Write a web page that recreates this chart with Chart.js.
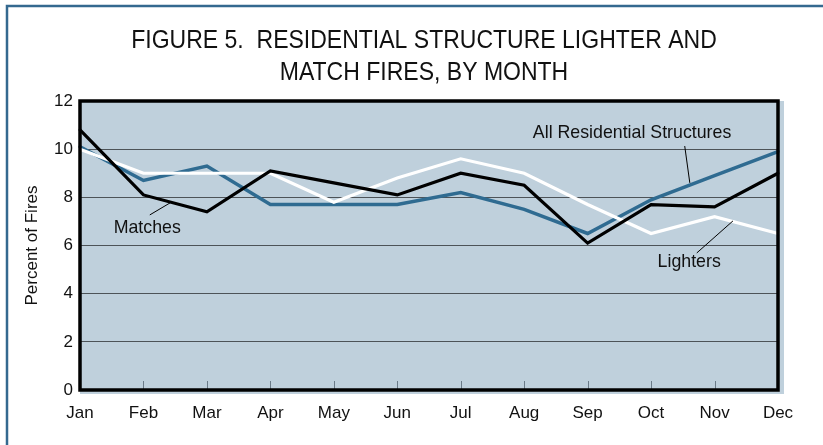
<!DOCTYPE html>
<html>
<head>
<meta charset="utf-8">
<script src="https://cdn.jsdelivr.net/npm/chart.js@4/dist/chart.umd.min.js"></script>
<style>
  html, body { margin: 0; padding: 0; background: #fff; }
  #wrap { position: relative; width: 823px; height: 445px; }
</style>
</head>
<body>
<div id="wrap"><canvas id="chart" width="823" height="445"></canvas></div>
<script>
// monthly share of fires (percent)
const months = ['Jan','Feb','Mar','Apr','May','Jun','Jul','Aug','Sep','Oct','Nov','Dec'];
const matches = [10.8, 8.1, 7.4, 9.1, 8.6, 8.1, 9.0, 8.5, 6.1, 7.7, 7.6, 9.0];
const lighters = [10.0, 9.0, 9.0, 9.0, 7.8, 8.8, 9.6, 9.0, 7.7, 6.5, 7.2, 6.5];
const allResidential = [10.1, 8.7, 9.3, 7.7, 7.7, 7.7, 8.2, 7.5, 6.5, 7.9, 8.9, 9.9];
const yTicks = [0, 2, 4, 6, 8, 10, 12];
const titleLines = ['FIGURE 5.  RESIDENTIAL STRUCTURE LIGHTER AND', 'MATCH FIRES, BY MONTH'];

// text labels inside the plot, in data units (x = month index, y = percent)
const notes = [
  { text: 'Matches', x: 1.06, y: 6.73, from: [1.10, 7.27], to: [1.42, 7.77] },
  { text: 'All Residential Structures', x: 8.70, y: 10.67, from: [9.53, 10.13], to: [9.61, 8.60] },
  { text: 'Lighters', x: 9.60, y: 5.32, from: [9.72, 5.69], to: [10.29, 7.02] }
];

const FONT = "'Liberation Sans', Arial, sans-serif";

const framePlugin = {
  id: 'frame',
  beforeDraw(chart){
    const c = chart.ctx, a = chart.chartArea;
    c.save();
    // outer blue border (left + top)
    c.strokeStyle = '#34698f';
    c.lineWidth = 2.5;
    c.beginPath();
    c.moveTo(7, 445);
    c.lineTo(7, 6);
    c.lineTo(823, 6);
    c.stroke();
    // shadow + plot background
    c.fillStyle = '#bfd0dc';
    c.fillRect(a.left, a.top, a.right - a.left + 6, a.bottom - a.top + 4);
    // title, condensed like the print
    c.fillStyle = '#111';
    c.font = '26px ' + FONT;
    c.textAlign = 'center';
    c.textBaseline = 'middle';
    titleLines.forEach((t, i)=>{
      c.save();
      c.translate(424, 41 + i * 32);
      c.scale(0.885, 1);
      c.fillText(t, 0, 0);
      c.restore();
    });
    c.restore();
  },
  afterDatasetsDraw(chart){
    const c = chart.ctx, a = chart.chartArea;
    const xs = chart.scales.x, ys = chart.scales.y;
    c.save();
    // small month ticks along bottom
    c.strokeStyle = '#6b7b88';
    c.lineWidth = 1;
    for(let i = 1; i < months.length - 1; i++){
      const px = Math.round(xs.getPixelForValue(i)) + 0.5;
      c.beginPath();
      c.moveTo(px, a.bottom);
      c.lineTo(px, a.bottom - 9);
      c.stroke();
    }
    // frame
    c.strokeStyle = '#000';
    c.lineWidth = 3.5;
    c.strokeRect(a.left, a.top, a.right - a.left, a.bottom - a.top);
    // notes
    c.font = '18.5px ' + FONT;
    c.fillStyle = '#111';
    c.textAlign = 'center';
    c.textBaseline = 'middle';
    c.lineWidth = 1;
    notes.forEach(n=>{
      c.save();
      c.translate(xs.getPixelForValue(n.x), ys.getPixelForValue(n.y));
      c.scale(0.96, 1);
      c.fillText(n.text, 0, 0);
      c.restore();
      c.beginPath();
      c.moveTo(xs.getPixelForValue(n.from[0]), ys.getPixelForValue(n.from[1]));
      c.lineTo(xs.getPixelForValue(n.to[0]), ys.getPixelForValue(n.to[1]));
      c.stroke();
    });
    c.restore();
  }
};

new Chart(document.getElementById('chart'), {
  type: 'line',
  data: {
    labels: months,
    datasets: [
      { label: 'Matches', data: matches, borderColor: '#000', borderWidth: 3.2 },
      { label: 'Lighters', data: lighters, borderColor: '#fff', borderWidth: 3.2 },
      { label: 'All Residential Structures', data: allResidential, borderColor: '#2f6b91', borderWidth: 3.5 }
    ]
  },
  options: {
    responsive: false,
    animation: false,
    layout: { padding: { left: 0, right: 45, top: 101, bottom: 0 } },
    elements: { point: { radius: 0 }, line: { tension: 0, borderCapStyle: 'round', borderJoinStyle: 'miter' } },
    plugins: {
      legend: { display: false },
      tooltip: { enabled: false },
      title: { display: false }
    },
    scales: {
      x: {
        grid: { display: false, drawTicks: false },
        border: { display: false },
        ticks: { color: '#111', font: { family: FONT, size: 17 }, padding: 13, maxRotation: 0, autoSkip: false },
        afterFit(s){ s.height = 55; }
      },
      y: {
        min: 0, max: 12,
        afterBuildTicks(s){ s.ticks = yTicks.map(v=>({ value: v })); },
        grid: { color: '#4d5358', lineWidth: 1, drawTicks: false },
        border: { display: false },
        ticks: { color: '#111', font: { family: FONT, size: 17 }, padding: 7 },
        title: { display: true, text: 'Percent of Fires', color: '#111', font: { family: FONT, size: 17 }, padding: { top: 22, bottom: 0 } },
        afterFit(s){ s.width = 80; }
      }
    }
  },
  plugins: [framePlugin]
});
</script>
</body>
</html>
